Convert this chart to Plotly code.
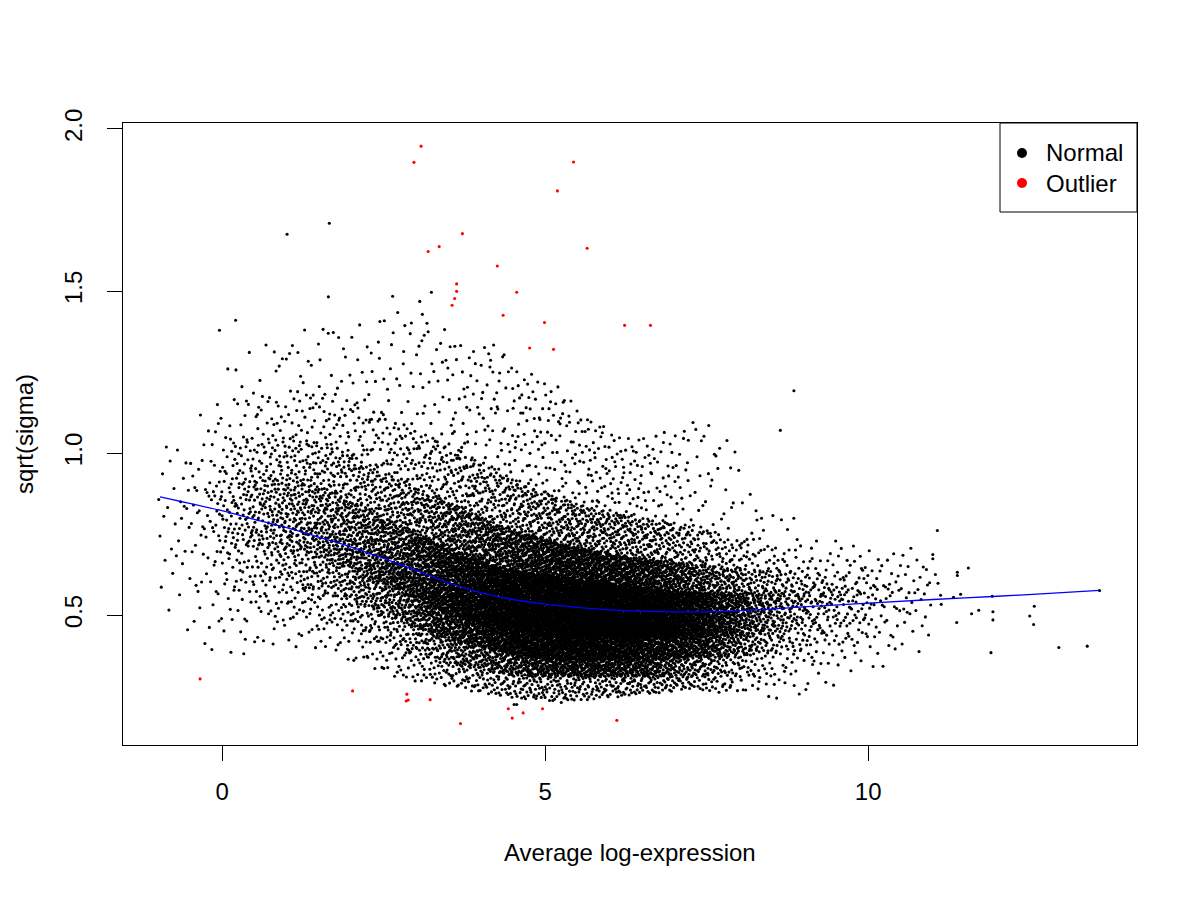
import numpy as np
import plotly.graph_objects as go

# black (normal) cloud, summarised per 0.5-wide bin of average log-expression
bin_lo = [-1.0, -0.5, 0.0, 0.5, 1.0, 1.5, 2.0, 2.5, 3.0, 3.5, 4.0, 4.5,
          5.0, 5.5, 6.0, 6.5, 7.0, 7.5, 8.0, 8.5, 9.0, 9.5, 10.0, 10.5]
bin_n = [25, 60, 175, 255, 330, 410, 510, 670, 920, 1180, 1420, 1620,
         1700, 1680, 1550, 1290, 950, 590, 330, 190, 120, 90, 50, 30]
# sqrt(sigma) quantiles per bin (min, 3%, 10%, 25%, 50%, 75%, 90%, 97%, max)
q_min = [0.38, 0.37, 0.37, 0.40, 0.40, 0.38, 0.33, 0.30, 0.29, 0.27, 0.25, 0.24,
         0.23, 0.24, 0.25, 0.26, 0.27, 0.26, 0.26, 0.23, 0.26, 0.30, 0.33, 0.36]
q03 = [0.45, 0.44, 0.47, 0.50, 0.49, 0.47, 0.43, 0.39, 0.36, 0.34, 0.32, 0.31,
       0.31, 0.31, 0.31, 0.31, 0.31, 0.31, 0.31, 0.31, 0.33, 0.35, 0.38, 0.40]
q10 = [0.56, 0.55, 0.58, 0.60, 0.58, 0.56, 0.52, 0.48, 0.44, 0.41, 0.39, 0.37,
       0.36, 0.36, 0.36, 0.36, 0.37, 0.37, 0.38, 0.38, 0.40, 0.41, 0.43, 0.44]
q25 = [0.65, 0.68, 0.71, 0.71, 0.69, 0.66, 0.61, 0.57, 0.52, 0.49, 0.46, 0.44,
       0.43, 0.43, 0.43, 0.43, 0.43, 0.43, 0.44, 0.45, 0.46, 0.47, 0.49, 0.50]
q50 = [0.78, 0.80, 0.82, 0.82, 0.80, 0.76, 0.71, 0.66, 0.62, 0.58, 0.55, 0.53,
       0.52, 0.51, 0.50, 0.50, 0.50, 0.50, 0.51, 0.52, 0.53, 0.54, 0.55, 0.56]
q75 = [0.87, 0.90, 0.93, 0.93, 0.92, 0.88, 0.83, 0.78, 0.73, 0.69, 0.65, 0.63,
       0.62, 0.60, 0.59, 0.58, 0.57, 0.57, 0.57, 0.58, 0.58, 0.59, 0.60, 0.61]
q90 = [0.96, 1.00, 1.04, 1.05, 1.05, 1.02, 0.97, 0.92, 0.87, 0.83, 0.78, 0.75,
       0.72, 0.70, 0.68, 0.67, 0.66, 0.65, 0.64, 0.64, 0.63, 0.64, 0.65, 0.66]
q97 = [1.00, 1.10, 1.17, 1.18, 1.20, 1.18, 1.15, 1.10, 1.05, 1.00, 0.95, 0.90,
       0.86, 0.83, 0.81, 0.79, 0.78, 0.75, 0.72, 0.71, 0.68, 0.69, 0.69, 0.69]
q_max = [1.02, 1.22, 1.36, 1.33, 1.40, 1.40, 1.40, 1.45, 1.42, 1.33, 1.34, 1.25,
         1.20, 1.10, 1.05, 1.06, 1.10, 1.11, 0.85, 0.82, 0.75, 0.72, 0.72, 0.72]

# isolated black points read individually
iso_x = [1.006, 1.66, 1.645, 2.64, 3.24, 3.06, 3.10, 0.21, -0.04, 8.85, 8.64,
         4.52, 4.56, 11.0, 11.0, 11.04, 11.08, 11.12, 11.13, 11.32, 11.07, 11.38,
         11.38, 11.43, 11.37, 11.55, 11.6, 11.71, 11.92, 11.93, 11.93, 11.9,
         12.5, 12.56, 12.57, 12.95, 13.39, 13.58]
iso_y = [1.675, 1.709, 1.482, 1.484, 1.496, 1.468, 1.428, 1.41, 1.379, 1.192, 1.07,
         0.224, 0.224, 0.687, 0.674, 0.625, 0.598, 0.561, 0.533, 0.555, 0.761, 0.632,
         0.622, 0.564, 0.477, 0.645, 0.504, 0.515, 0.558, 0.51, 0.485, 0.384,
         0.497, 0.471, 0.527, 0.40, 0.404, 0.576]

# red outliers
out_x = [3.08, 2.97, 5.44, 5.19, 3.72, 3.36, 3.19, 5.65, 4.26, 3.63, 3.63, 3.60,
         3.56, 4.56, 4.35, 4.99, 6.23, 6.63, 4.76, 5.13,
         -0.34, 2.02, 2.86, 2.85, 2.88, 3.22, 3.69, 4.43, 4.49, 4.66, 4.96, 6.11]
out_y = [1.947, 1.897, 1.898, 1.809, 1.677, 1.637, 1.622, 1.632, 1.577, 1.522, 1.499, 1.477,
         1.456, 1.496, 1.425, 1.403, 1.394, 1.394, 1.324, 1.320,
         0.303, 0.266, 0.256, 0.235, 0.238, 0.239, 0.165, 0.211, 0.182, 0.198, 0.211, 0.175]

# fitted trend
trend_x = [-0.96, 0, 0.5, 1, 1.5, 2, 2.5, 3, 3.5, 4, 4.5, 5, 5.5, 6, 6.5, 7,
           7.5, 8, 9, 10, 11, 12, 13, 13.58]
trend_y = [0.865, 0.822, 0.795, 0.77, 0.74, 0.71, 0.675, 0.638, 0.600, 0.569,
           0.548, 0.534, 0.524, 0.516, 0.512, 0.510, 0.510, 0.513, 0.525, 0.537,
           0.548, 0.558, 0.569, 0.576]

legend_labels = ["Normal", "Outlier"]
legend_colors = ["black", "red"]


def halton(k, base):
    k = np.asarray(k, dtype=np.int64).copy()
    out = np.zeros(k.shape)
    f = 1.0 / base
    while np.any(k > 0):
        out += f * (k % base)
        k //= base
        f /= base
    return out


# spread the binned cloud out as points: x follows the (smoothed) bin counts,
# y follows the bin quantiles
probs = np.array([0, 0.03, 0.10, 0.25, 0.50, 0.75, 0.90, 0.97, 1.0])
Q = np.array([q_min, q03, q10, q25, q50, q75, q90, q97, q_max]).T
centres = np.array(bin_lo) + 0.25
dens = np.array(bin_n) / 0.5
grid = np.linspace(bin_lo[0], bin_lo[-1] + 0.5, 3001)
g_dens = np.interp(grid, centres, dens)
cdf = np.concatenate([[0], np.cumsum((g_dens[1:] + g_dens[:-1]) / 2 * np.diff(grid))])
cdf /= cdf[-1]
N = int(sum(bin_n))
k = np.arange(1, N + 1)
u = halton(k, 2)
v = halton(k, 3)
x = np.interp(u, cdf, grid)
qx = np.column_stack([np.interp(x, centres, Q[:, j]) for j in range(len(probs))])
seg = np.clip(np.searchsorted(probs, v, side="right") - 1, 0, len(probs) - 2)
t = (v - probs[seg]) / (probs[seg + 1] - probs[seg])
rows = np.arange(N)
y = qx[rows, seg] + t * (qx[rows, seg + 1] - qx[rows, seg])
cloud_x = np.concatenate([x, iso_x])
cloud_y = np.concatenate([y, iso_y])

FONT = "Liberation Sans, Arial, sans-serif"

fig = go.Figure()
fig.add_trace(go.Scatter(x=cloud_x, y=cloud_y, mode="markers",
                         marker=dict(color="black", size=3.1, line=dict(width=0)),
                         showlegend=False, hoverinfo="skip"))
fig.add_trace(go.Scatter(x=out_x, y=out_y, mode="markers",
                         marker=dict(color="red", size=3.1, line=dict(width=0)),
                         showlegend=False, hoverinfo="skip"))
fig.add_trace(go.Scatter(x=trend_x, y=trend_y, mode="lines", line_shape="spline",
                         line=dict(color="blue", width=1.3), showlegend=False,
                         hoverinfo="skip"))

axis_style = dict(showline=True, linecolor="black", linewidth=1, mirror=True,
                  ticks="outside", ticklen=15, tickwidth=1, tickcolor="black",
                  showgrid=False, zeroline=False,
                  tickfont=dict(family=FONT, size=24, color="black"))
fig.update_xaxes(range=[-1.533, 14.16], tickvals=[0, 5, 10],
                 ticklabelstandoff=10, **axis_style)
fig.update_yaxes(range=[0.099, 2.0185], tickvals=[0.5, 1.0, 1.5, 2.0],
                 ticktext=["0.5", "1.0", "1.5", "2.0"], tickangle=-90,
                 ticklabelstandoff=15, **axis_style)

# legend box in the top-right corner, drawn like R's legend("topright")
W, H = 1014.0, 622.0
shapes = [dict(type="rect", xref="paper", yref="paper",
               x0=1 - 137 / W, x1=1, y0=1 - 89 / H, y1=1,
               line=dict(color="black", width=1), fillcolor="white")]
annotations = []
for i, (lab, col) in enumerate(zip(legend_labels, legend_colors)):
    cy = 1 - (30 + 30 * i) / H
    shapes.append(dict(type="circle", xref="paper", yref="paper",
                       x0=1 - 120 / W, x1=1 - 110 / W,
                       y0=cy - 5 / H, y1=cy + 5 / H,
                       line=dict(color=col, width=0), fillcolor=col))
    annotations.append(dict(text=lab, x=1 - 93 / W, y=cy, xref="paper", yref="paper",
                            showarrow=False, xanchor="left", yanchor="middle",
                            font=dict(family=FONT, size=24, color="black")))

annotations += [
    dict(text="Average log-expression", x=0.5, y=-0.1736, xref="paper", yref="paper",
         showarrow=False, xanchor="center", yanchor="middle",
         font=dict(family=FONT, size=24, color="black")),
    dict(text="sqrt(sigma)", x=-0.0976, y=0.5, xref="paper", yref="paper",
         showarrow=False, xanchor="center", yanchor="middle", textangle=-90,
         font=dict(family=FONT, size=24, color="black")),
]

fig.update_layout(
    width=1200, height=900,
    margin=dict(l=115, r=71, t=115, b=163),
    plot_bgcolor="white", paper_bgcolor="white",
    font=dict(family=FONT, size=24, color="black"),
    showlegend=False,
    shapes=shapes,
    annotations=annotations,
)

fig.write_html("out.html")
